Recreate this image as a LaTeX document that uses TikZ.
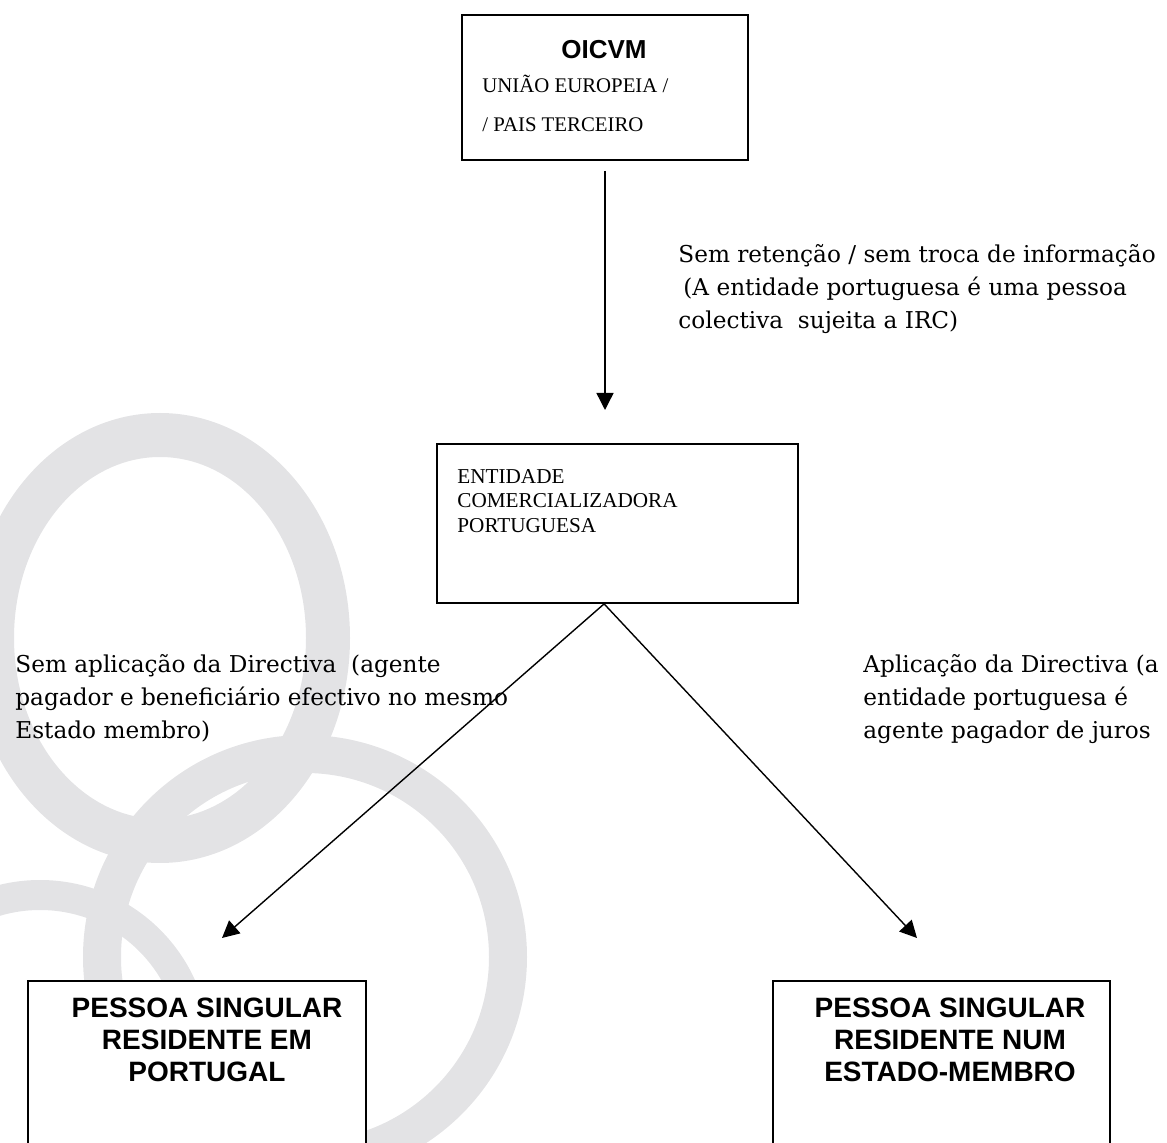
\documentclass[tikz,border=0pt]{standalone}
\usepackage{fontspec}
\setmainfont{Liberation Serif}
\newfontfamily\sansbold{Liberation Sans}
\newfontfamily\notefont{DejaVu Serif}
\usetikzlibrary{positioning}
\usetikzlibrary{arrows.meta}
\usetikzlibrary{calc}
\definecolor{ringcol}{RGB}{227,227,229}
\def\boxcol{black}
\tikzset{
  box/.style={draw=\boxcol, line width=0.9pt, fill=white, inner sep=0pt},
  ring/.style={draw=ringcol},
  flow/.style={line width=0.7pt, -{Triangle[length=8.5pt,width=8.5pt]}},
  boxtext/.style={font=\fontsize{10.6}{12.25}\selectfont, align=left, inner sep=0pt},
  headtext/.style={font=\sansbold\bfseries\fontsize{14}{16}\selectfont, align=center, inner sep=0pt},
  note/.style={font=\notefont\fontsize{11.6}{16.5}\selectfont, align=left, inner sep=0pt}
}
\begin{document}
\begin{tikzpicture}[x=0.5pt, y=-0.5pt]
\clip (0,0) rectangle (1167,1143);
% watermark rings
\draw[ring, line width=22pt] (160,638) ellipse [x radius=168, y radius=203];
\draw[ring, line width=19pt] (305,957) circle [radius=203];
\draw[ring, line width=15pt] (40,1050) circle [radius=155];
% boxes
\node[box, minimum width=143pt, minimum height=72.5pt] (oicvm) at (605,87.5) {};
\node[box, minimum width=180.5pt, minimum height=79.5pt] (entidade) at (617.5,523.5) {};
\node[box, minimum width=169pt, minimum height=100pt] (residpt) at (197,1081) {};
\node[box, minimum width=168.5pt, minimum height=100pt] (residem) at (941.5,1081) {};
% box texts
\node[font=\sansbold\bfseries\fontsize{13}{15}\selectfont, anchor=base, inner sep=0pt] (oicvmtitle) at (604,59) {OICVM};
\node[boxtext, font=\fontsize{10.4}{19.5}\selectfont, anchor=north west] (oicvmtxt) at (482,75) {UNIÃO EUROPEIA /\\/ PAIS TERCEIRO};
\node[boxtext, anchor=north west] (entidadetxt) at (457,469) {ENTIDADE\\COMERCIALIZADORA\\PORTUGUESA};
\node[headtext, anchor=north] (residpttxt) at (207,998) {PESSOA SINGULAR\\RESIDENTE EM\\PORTUGAL};
\node[headtext, anchor=north] (residemtxt) at (950,998) {PESSOA SINGULAR\\RESIDENTE NUM\\ESTADO-MEMBRO};
% connectors
\coordinate (tipE) at (605,410);
\coordinate (split) at ($(entidade.south west)+(168,0)$);
\coordinate (tipL) at (222,938);
\coordinate (tipR) at (917,938);
\draw[flow, shorten <=5pt] (oicvm.south) -- (tipE);
\draw[flow] (split) -- (tipL);
\draw[flow] (split) -- (tipR);
% labels
\node[note, anchor=north west] (retencao) at (678,244) {Sem retenção / sem troca de informação\\\hspace*{2.5pt}(A entidade portuguesa é uma pessoa\\colectiva\ \ sujeita a IRC)};
\node[note, anchor=north west] (semdir) at (15,654) {Sem aplicação da Directiva\ \ (agente\\pagador e beneficiário efectivo no mesmo\\Estado membro)};
\node[note, anchor=north west] (comdir) at (863,654) {Aplicação da Directiva (a\\entidade portuguesa é\\agente pagador de juros};
\end{tikzpicture}
\end{document}
